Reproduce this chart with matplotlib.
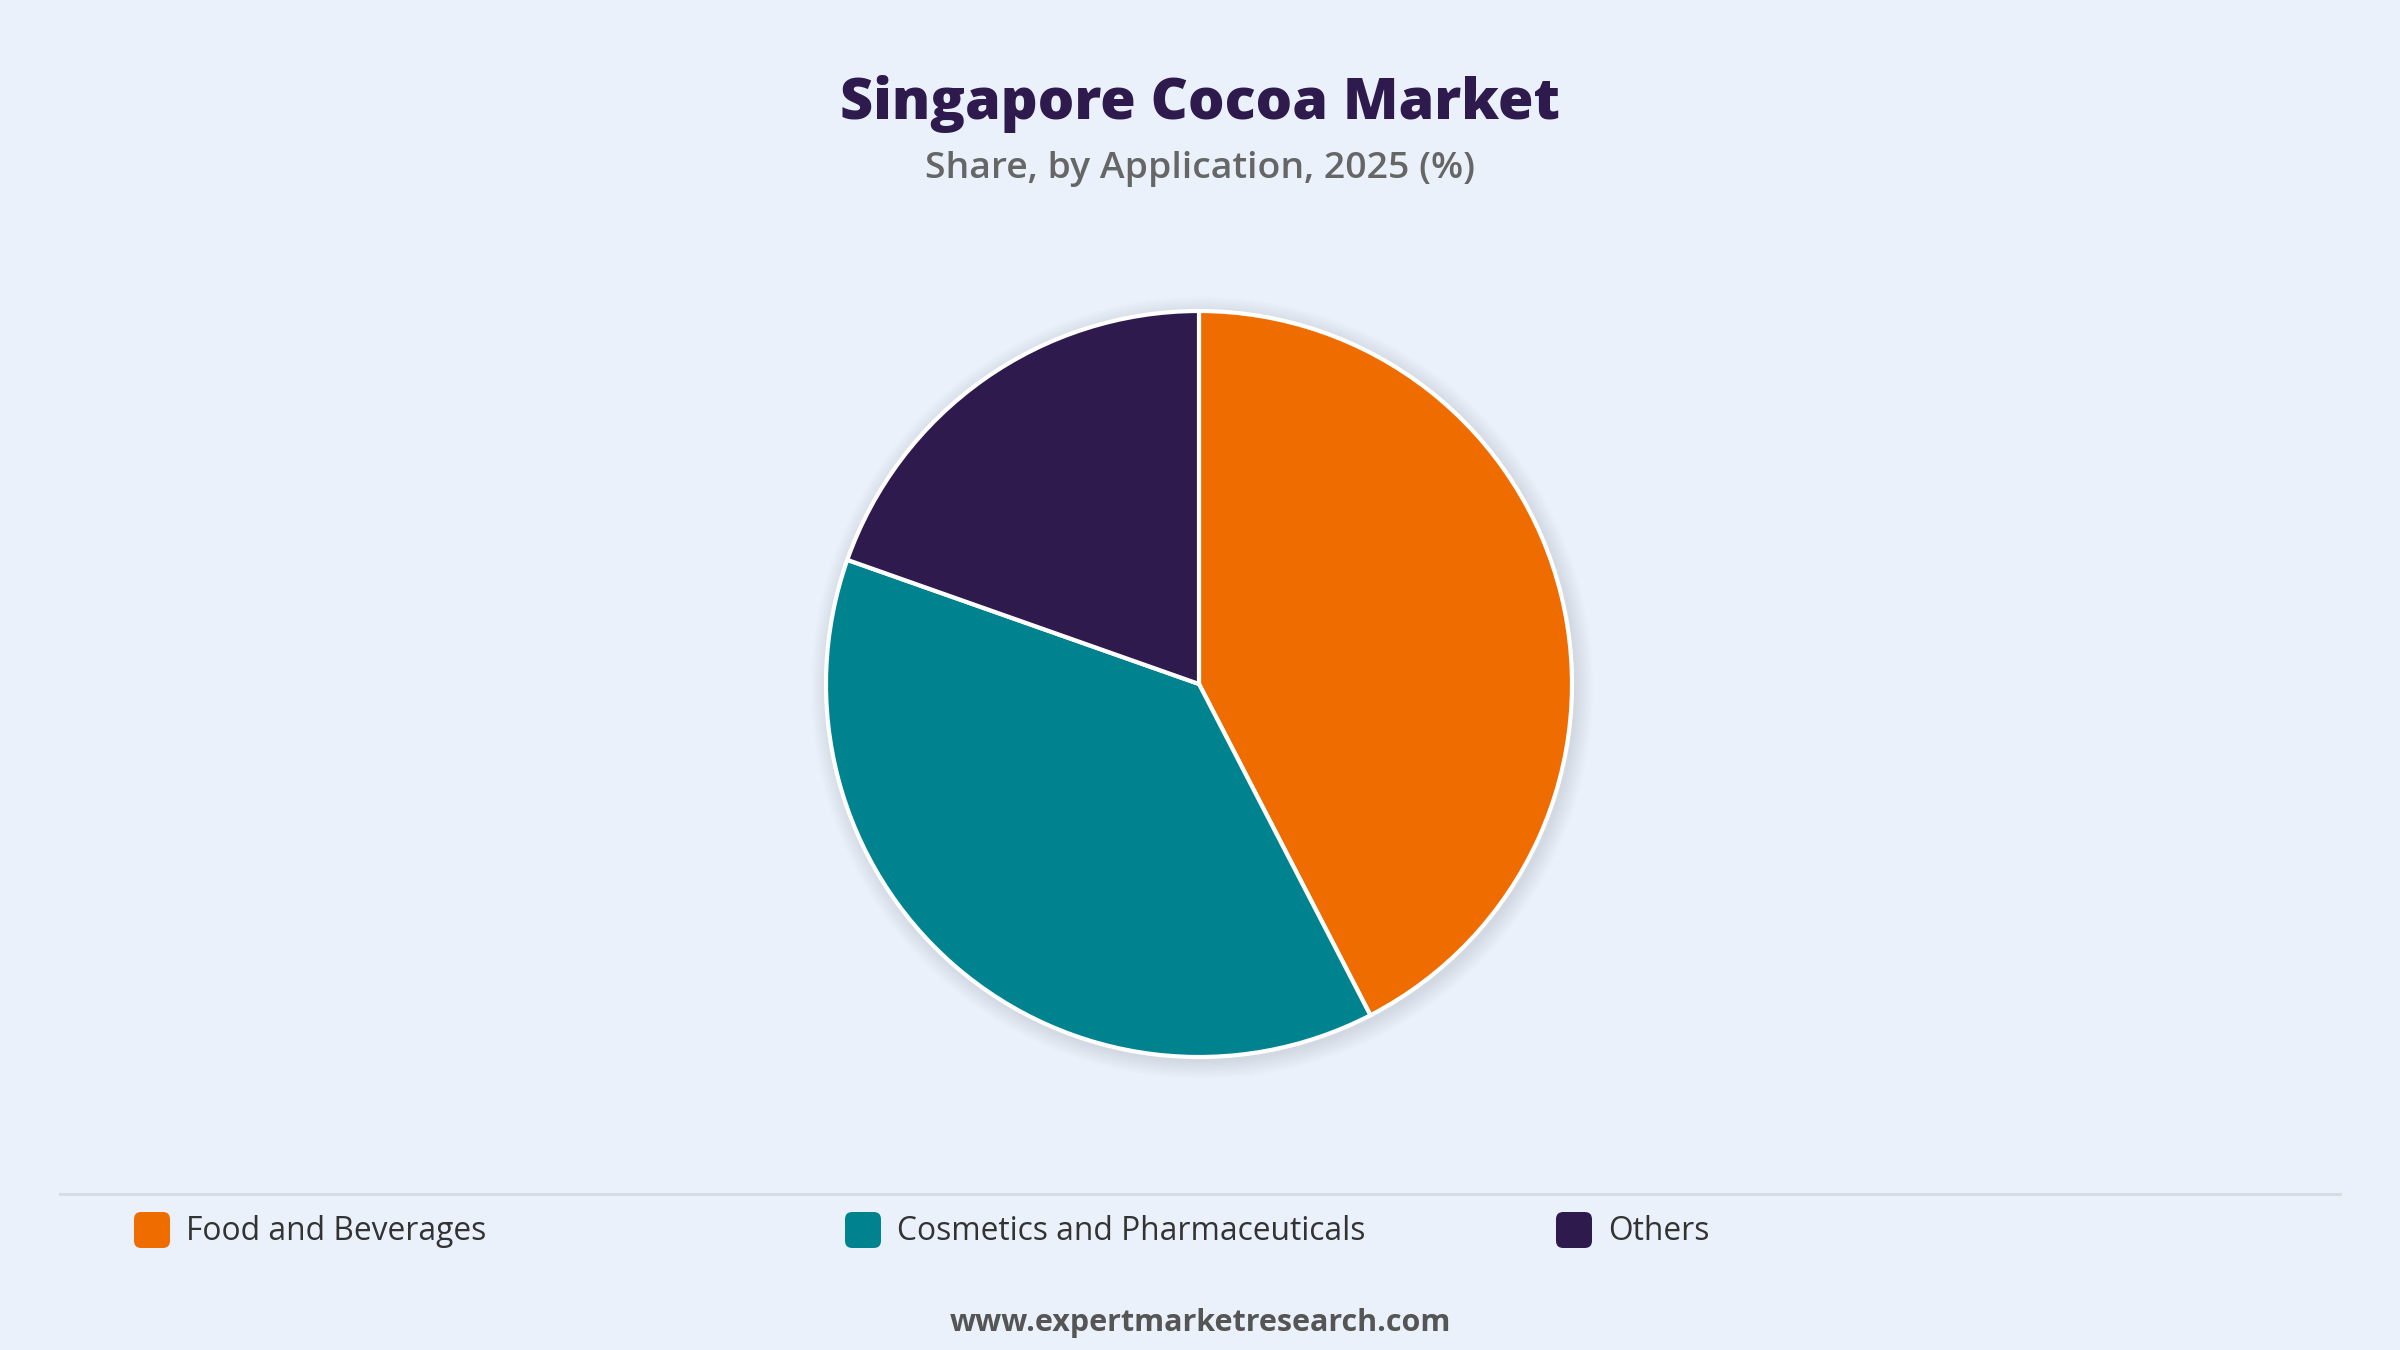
import matplotlib
matplotlib.use("Agg")
import matplotlib.pyplot as plt
from matplotlib.patches import Circle, FancyBboxPatch
from matplotlib.lines import Line2D

# ---- data ----
categories = ["Food and Beverages", "Cosmetics and Pharmaceuticals", "Others"]
shares = [42.4, 38.0, 19.6]
colors = ["#EF6C00", "#00838F", "#2E1A4D"]
title = "Singapore Cocoa Market"
subtitle = "Share, by Application, 2025 (%)"
footer = "www.expertmarketresearch.com"

W, H = 2400, 1350
BG = "#EAF1FB"
plt.rcParams['font.family'] = ['Open Sans', 'DejaVu Sans']

fig = plt.figure(figsize=(W / 100, H / 100), dpi=100, facecolor=BG)
renderer = fig.canvas.get_renderer()


def px(x, y):
    """pixel coords (from top-left) to figure fraction"""
    return x / W, 1 - y / H


def fit(txt, target_w):
    bb = txt.get_window_extent(renderer=renderer)
    txt.set_fontsize(txt.get_fontsize() * target_w / bb.width)


# ---- pie ----
cx, cy, r = 1199, 684, 373
M = 1.1
ax = fig.add_axes([(cx - M * r) / W, 1 - (cy + M * r) / H, 2 * M * r / W, 2 * M * r / H])
ax.patch.set_alpha(0)

# soft shadow
for k in range(12, 0, -1):
    ax.add_patch(Circle((0.008, -0.010), 1.0 + k * 0.004, color="#9aa6b5",
                        alpha=0.022, lw=0, zorder=0))

wedges, _ = ax.pie(shares, colors=colors, startangle=90, counterclock=False,
                   radius=1.0,
                   wedgeprops=dict(edgecolor="white", linewidth=3.0, joinstyle="miter"))
for w in wedges:
    w.set_zorder(2)
ax.set_xlim(-M, M)
ax.set_ylim(-M, M)
ax.set_aspect("equal")
ax.axis("off")

# ---- title / subtitle ----
t1 = fig.text(*px(W / 2, 104), title, ha="center", va="center", fontsize=40,
              fontweight="heavy", color="#2E1A4D")
fit(t1, 719)
t2 = fig.text(*px(W / 2, 169), subtitle, ha="center", va="center", fontsize=26,
              fontweight="semibold", color="#666666")
fit(t2, 550)

# ---- separator ----
fig.add_artist(Line2D([60 / W, 2340 / W], [1 - 1194 / H, 1 - 1194 / H],
                      color="#D8DCE1", lw=2.2))

# ---- legend ----
box_x = [134, 845, 1556]
for i, (lab, col) in enumerate(zip(categories, colors)):
    bx = box_x[i]
    x0, y0 = px(bx, 1248)
    fig.add_artist(FancyBboxPatch((x0, y0), 36 / W, 36 / H,
                                  boxstyle="round,pad=0,rounding_size=0.003",
                                  transform=fig.transFigure, fc=col, ec="none",
                                  mutation_aspect=W / H))
    t = fig.text(*px(bx + 52, 1232), lab, ha="left", va="center", fontsize=22,
                 fontweight="medium", color="#333333")
    if i == 0:
        fit(t, 300)
        legend_fs = t.get_fontsize()
    else:
        t.set_fontsize(legend_fs)

# ---- footer ----
t3 = fig.text(*px(W / 2, 1323), footer, ha="center", va="center", fontsize=22,
              fontweight="bold", color="#555555")
fit(t3, 500)

fig.savefig("out.png", dpi=100, facecolor=BG)
